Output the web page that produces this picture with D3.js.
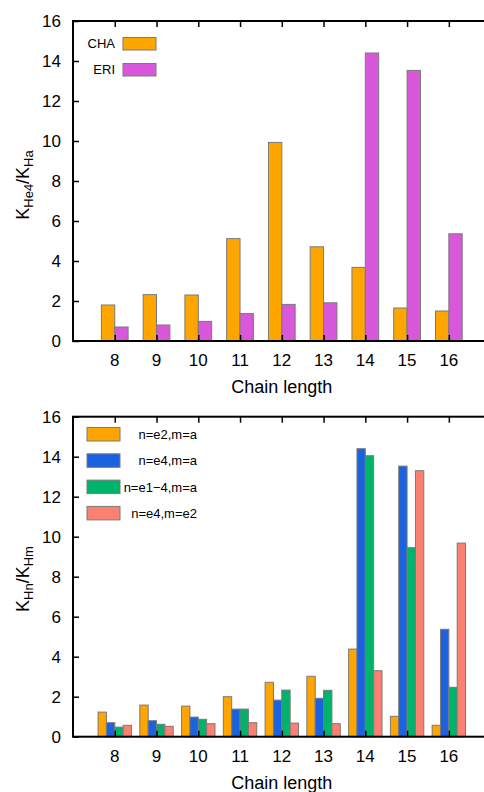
<!DOCTYPE html>
<meta charset="utf-8"/>
<head>
<style>
  body { margin:0; background:#fff; }
  text { font-family: "Liberation Sans", Arial, sans-serif; fill:#000; }
</style>
<script src="https://d3js.org/d3.v7.min.js" charset="utf-8"></script>
</head>
<body>
<script>
  // data
  var chainLength = [8, 9, 10, 11, 12, 13, 14, 15, 16];
  var yTicks = [0, 2, 4, 6, 8, 10, 12, 14, 16];

  var topNames = ["CHA", "ERI"];
  var cha = [1.8, 2.32, 2.3, 5.12, 9.93, 4.71, 3.68, 1.65, 1.5];
  var eri = [0.7, 0.8, 0.98, 1.37, 1.83, 1.91, 14.4, 13.53, 5.36];

  var botNames = ["n=e2,m=a", "n=e4,m=a", "n=e1\u22124,m=a", "n=e4,m=e2"];
  var e2a = [1.23, 1.58, 1.53, 2.0, 2.72, 3.02, 4.38, 1.02, 0.57];
  var e4a = [0.7, 0.8, 0.98, 1.38, 1.83, 1.92, 14.4, 13.53, 5.37];
  var e14a = [0.48, 0.62, 0.87, 1.38, 2.33, 2.32, 14.05, 9.45, 2.47];
  var e4e2 = [0.57, 0.52, 0.65, 0.7, 0.68, 0.65, 3.3, 13.3, 9.68];

  var width = 484, height = 792;

  var svg = d3.select("body").append("svg")
    .attr("width", width)
    .attr("height", height);

  var x = d3.scaleLinear().domain([7, 17]).range([73, 490.6]);

  function panel(opt) {
    var y = d3.scaleLinear().domain([0, 16]).range([opt.y0, opt.y1]);
    var g = svg.append("g");
    var n = opt.series.length;
    var bw = opt.barWidth; // in x units

    opt.series.forEach(function(vals, si) {
      g.selectAll(null)
        .data(vals)
        .enter().append("rect")
        .attr("x", function(d, i) { return x(chainLength[i] - n * bw / 2 + si * bw); })
        .attr("width", x(7 + bw) - x(7))
        .attr("y", function(d) { return y(d); })
        .attr("height", function(d) { return y(0) - y(d); })
        .attr("fill", opt.colors[si])
        .attr("stroke", "#7a7a7a")
        .attr("stroke-width", 1);
    });

    // frame (right side runs off the page)
    g.append("rect")
      .attr("x", x(7)).attr("y", y(16))
      .attr("width", x(17) - x(7)).attr("height", y(0) - y(16))
      .attr("fill", "none").attr("stroke", "#000").attr("stroke-width", 2);

    // inward ticks
    var yAxis = d3.axisRight(y).tickValues(yTicks).tickSize(6).tickFormat("");
    g.append("g").attr("transform", "translate(" + x(7) + ",0)").call(yAxis)
      .call(function(s) { s.select(".domain").remove(); s.selectAll("line").attr("stroke-width", 1.5); });
    var xBot = d3.axisTop(x).tickValues(chainLength).tickSize(6).tickFormat("");
    g.append("g").attr("transform", "translate(0," + y(0) + ")").call(xBot)
      .call(function(s) { s.select(".domain").remove(); s.selectAll("line").attr("stroke-width", 1.5); });
    var xTop = d3.axisBottom(x).tickValues(chainLength).tickSize(6).tickFormat("");
    g.append("g").attr("transform", "translate(0," + y(16) + ")").call(xTop)
      .call(function(s) { s.select(".domain").remove(); s.selectAll("line").attr("stroke-width", 1.5); });

    // tick labels
    g.selectAll(null).data(yTicks).enter().append("text")
      .attr("x", 61).attr("y", function(d) { return y(d); })
      .attr("dy", "0.36em").attr("text-anchor", "end")
      .style("font-size", "17px").text(function(d) { return d; });
    g.selectAll(null).data(chainLength).enter().append("text")
      .attr("x", function(d) { return x(d); }).attr("y", y(0) + 25)
      .attr("text-anchor", "middle")
      .style("font-size", "17px").text(function(d) { return d; });

    g.append("text")
      .attr("x", x(12)).attr("y", y(0) + 52)
      .attr("text-anchor", "middle").style("font-size", "18px")
      .text("Chain length");

    // y label with subscripts
    var yl = g.append("text")
      .attr("transform", "translate(" + 29 + "," + opt.labY + ") rotate(-90)")
      .attr("text-anchor", "middle").style("font-size", "18px");
    yl.append("tspan").text("K");
    yl.append("tspan").attr("baseline-shift", "-30%").style("font-size", "13px").text(opt.sub1);
    yl.append("tspan").text("/K");
    yl.append("tspan").attr("baseline-shift", "-30%").style("font-size", "13px").text(opt.sub2);

    // legend
    opt.names.forEach(function(name, i) {
      var ly = opt.legY + i * opt.legStep;
      g.append("rect")
        .attr("x", opt.swX).attr("y", ly)
        .attr("width", opt.swW).attr("height", opt.swH)
        .attr("fill", opt.colors[i]).attr("stroke", "#7a7a7a");
      g.append("text")
        .attr("x", opt.textX).attr("y", ly + opt.swH / 2)
        .attr("dy", "0.36em").attr("text-anchor", "end")
        .style("font-size", "13px").text(name);
    });
  }

  panel({
    y0: 341, y1: 21, labY: 185,
    series: [cha, eri],
    colors: ["#ffa500", "#d957db"],
    barWidth: 0.32,
    sub1: "He4", sub2: "Ha",
    names: topNames,
    legY: 37.5, legStep: 26, swX: 123, swW: 33, swH: 12.5,
    textX: 115
  });

  panel({
    y0: 736.7, y1: 416.7, labY: 579,
    series: [e2a, e4a, e14a, e4e2],
    colors: ["#ffa500", "#1a62e0", "#00b36b", "#fa8072"],
    barWidth: 0.2,
    sub1: "Hn", sub2: "Hm",
    names: botNames,
    legY: 427.5, legStep: 26.3, swX: 87, swW: 33, swH: 13.5,
    textX: 197
  });
</script>
</body>
</html>
